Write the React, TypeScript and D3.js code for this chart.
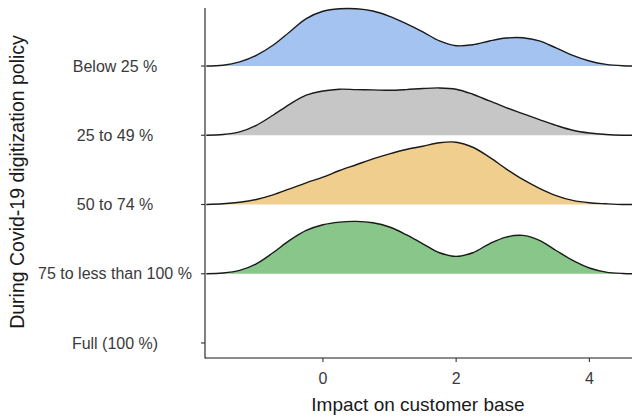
import React from 'react'
import * as d3 from 'd3'

// categories, top to bottom
const groups = ['Below 25 %', '25 to 49 %', '50 to 74 %', '75 to less than 100 %', 'Full (100 %)']

const gridX = [
    -1.75, -1.5, -1.25, -1, -0.75, -0.5, -0.25, 0, 0.25, 0.5, 0.75, 1, 1.25, 1.5,
    1.75, 2, 2.25, 2.5, 2.75, 3, 3.25, 3.5, 3.75, 4, 4.25, 4.5, 4.75,
]

const below25 = [
    0, 0.005, 0.029, 0.076, 0.148, 0.243, 0.338, 0.391, 0.409, 0.409, 0.393, 0.355, 0.302, 0.243,
    0.179, 0.145, 0.152, 0.179, 0.2, 0.202, 0.179, 0.129, 0.076, 0.036, 0.012, 0.002, 0,
]
const from25to49 = [
    0, 0.005, 0.024, 0.071, 0.143, 0.221, 0.286, 0.316, 0.329, 0.326, 0.324, 0.321, 0.326, 0.334,
    0.338, 0.329, 0.293, 0.245, 0.198, 0.155, 0.112, 0.071, 0.036, 0.016, 0.005, 0, 0,
]
const from50to74 = [
    0, 0.005, 0.016, 0.036, 0.069, 0.112, 0.155, 0.195, 0.243, 0.284, 0.326, 0.362, 0.393, 0.416,
    0.441, 0.445, 0.409, 0.338, 0.255, 0.179, 0.116, 0.064, 0.029, 0.012, 0.005, 0, 0,
]
const from75to100 = [
    0, 0.005, 0.024, 0.071, 0.15, 0.238, 0.309, 0.35, 0.369, 0.374, 0.364, 0.334, 0.279, 0.214,
    0.15, 0.124, 0.15, 0.214, 0.262, 0.274, 0.238, 0.166, 0.095, 0.041, 0.012, 0.002, 0,
]

const ridges = [
    { group: 'Below 25 %', values: below25, fill: '#a4c3f0' },
    { group: '25 to 49 %', values: from25to49, fill: '#c6c6c6' },
    { group: '50 to 74 %', values: from50to74, fill: '#f0ce8e' },
    { group: '75 to less than 100 %', values: from75to100, fill: '#88c68a' },
]

const xTicks = [0, 2, 4]

const width = 632
const height = 417
const margin = { left: 205, right: 0, top: 8, bottom: 59 }
const font = '"Liberation Sans", Arial, sans-serif'

function App() {
    const x = d3.scaleLinear()
        .domain([-1.77, 4.64])
        .range([margin.left, width - margin.right])

    const y = d3.scalePoint()
        .domain(groups)
        .range([66, 343])

    // density -> ridge height in px
    const h = d3.scaleLinear().domain([0, 1]).range([0, 140])

    const bottom = height - margin.bottom
    const curve = d3.curveCatmullRom.alpha(0.5)

    return (
        <svg width={width} height={height} style={{ position: 'absolute', left: 0, top: 0, fontFamily: font }}>
            <defs>
                <clipPath id="plot">
                    <rect x={margin.left} y={0} width={width - margin.left} height={bottom} />
                </clipPath>
            </defs>
            <g clipPath="url(#plot)">
                {ridges.map(r => {
                    const base = y(r.group) as number
                    const pts = gridX.map((gx, i) => [gx, r.values[i]] as [number, number])
                    const area = d3.area<[number, number]>()
                        .x(d => x(d[0]))
                        .y0(base)
                        .y1(d => Math.min(base, base - h(d[1])))
                        .curve(curve)
                    const line = d3.line<[number, number]>()
                        .x(d => x(d[0]))
                        .y(d => base - h(d[1]))
                        .curve(curve)
                    return (
                        <g key={r.group}>
                            <path d={area(pts) || ''} fill={r.fill} />
                            <path d={line(pts) || ''} fill="none" stroke="#1a1a1a" strokeWidth={1.4} />
                        </g>
                    )
                })}
            </g>

            {/* y axis */}
            <line x1={margin.left} x2={margin.left} y1={margin.top} y2={bottom + 0.5} stroke="#1a1a1a" strokeWidth={1.1} />
            {groups.map(g => (
                <g key={g} transform={`translate(0,${y(g)})`}>
                    <line x1={margin.left - 4} x2={margin.left} stroke="#333" strokeWidth={1.1} />
                    <text x={115} dy="0.35em" textAnchor="middle" fontSize={16} fill="#3a3a3a">{g}</text>
                </g>
            ))}

            {/* x axis */}
            <line x1={margin.left} x2={width} y1={bottom} y2={bottom} stroke="#1a1a1a" strokeWidth={1.1} />
            {xTicks.map(t => (
                <g key={t} transform={`translate(${x(t)},${bottom})`}>
                    <line y1={0} y2={4} stroke="#333" strokeWidth={1.1} />
                    <text y={20} dy="0.35em" textAnchor="middle" fontSize={16} fill="#3a3a3a">{t}</text>
                </g>
            ))}

            <text x={418} y={404} dy="0.35em" textAnchor="middle" fontSize={19} fill="#1a1a1a">Impact on customer base</text>
            <text transform={`translate(17,182) rotate(-90)`} dy="0.35em" textAnchor="middle" fontSize={19.5} fill="#1a1a1a">During Covid-19 digitization policy</text>
        </svg>
    )
}

export default App
